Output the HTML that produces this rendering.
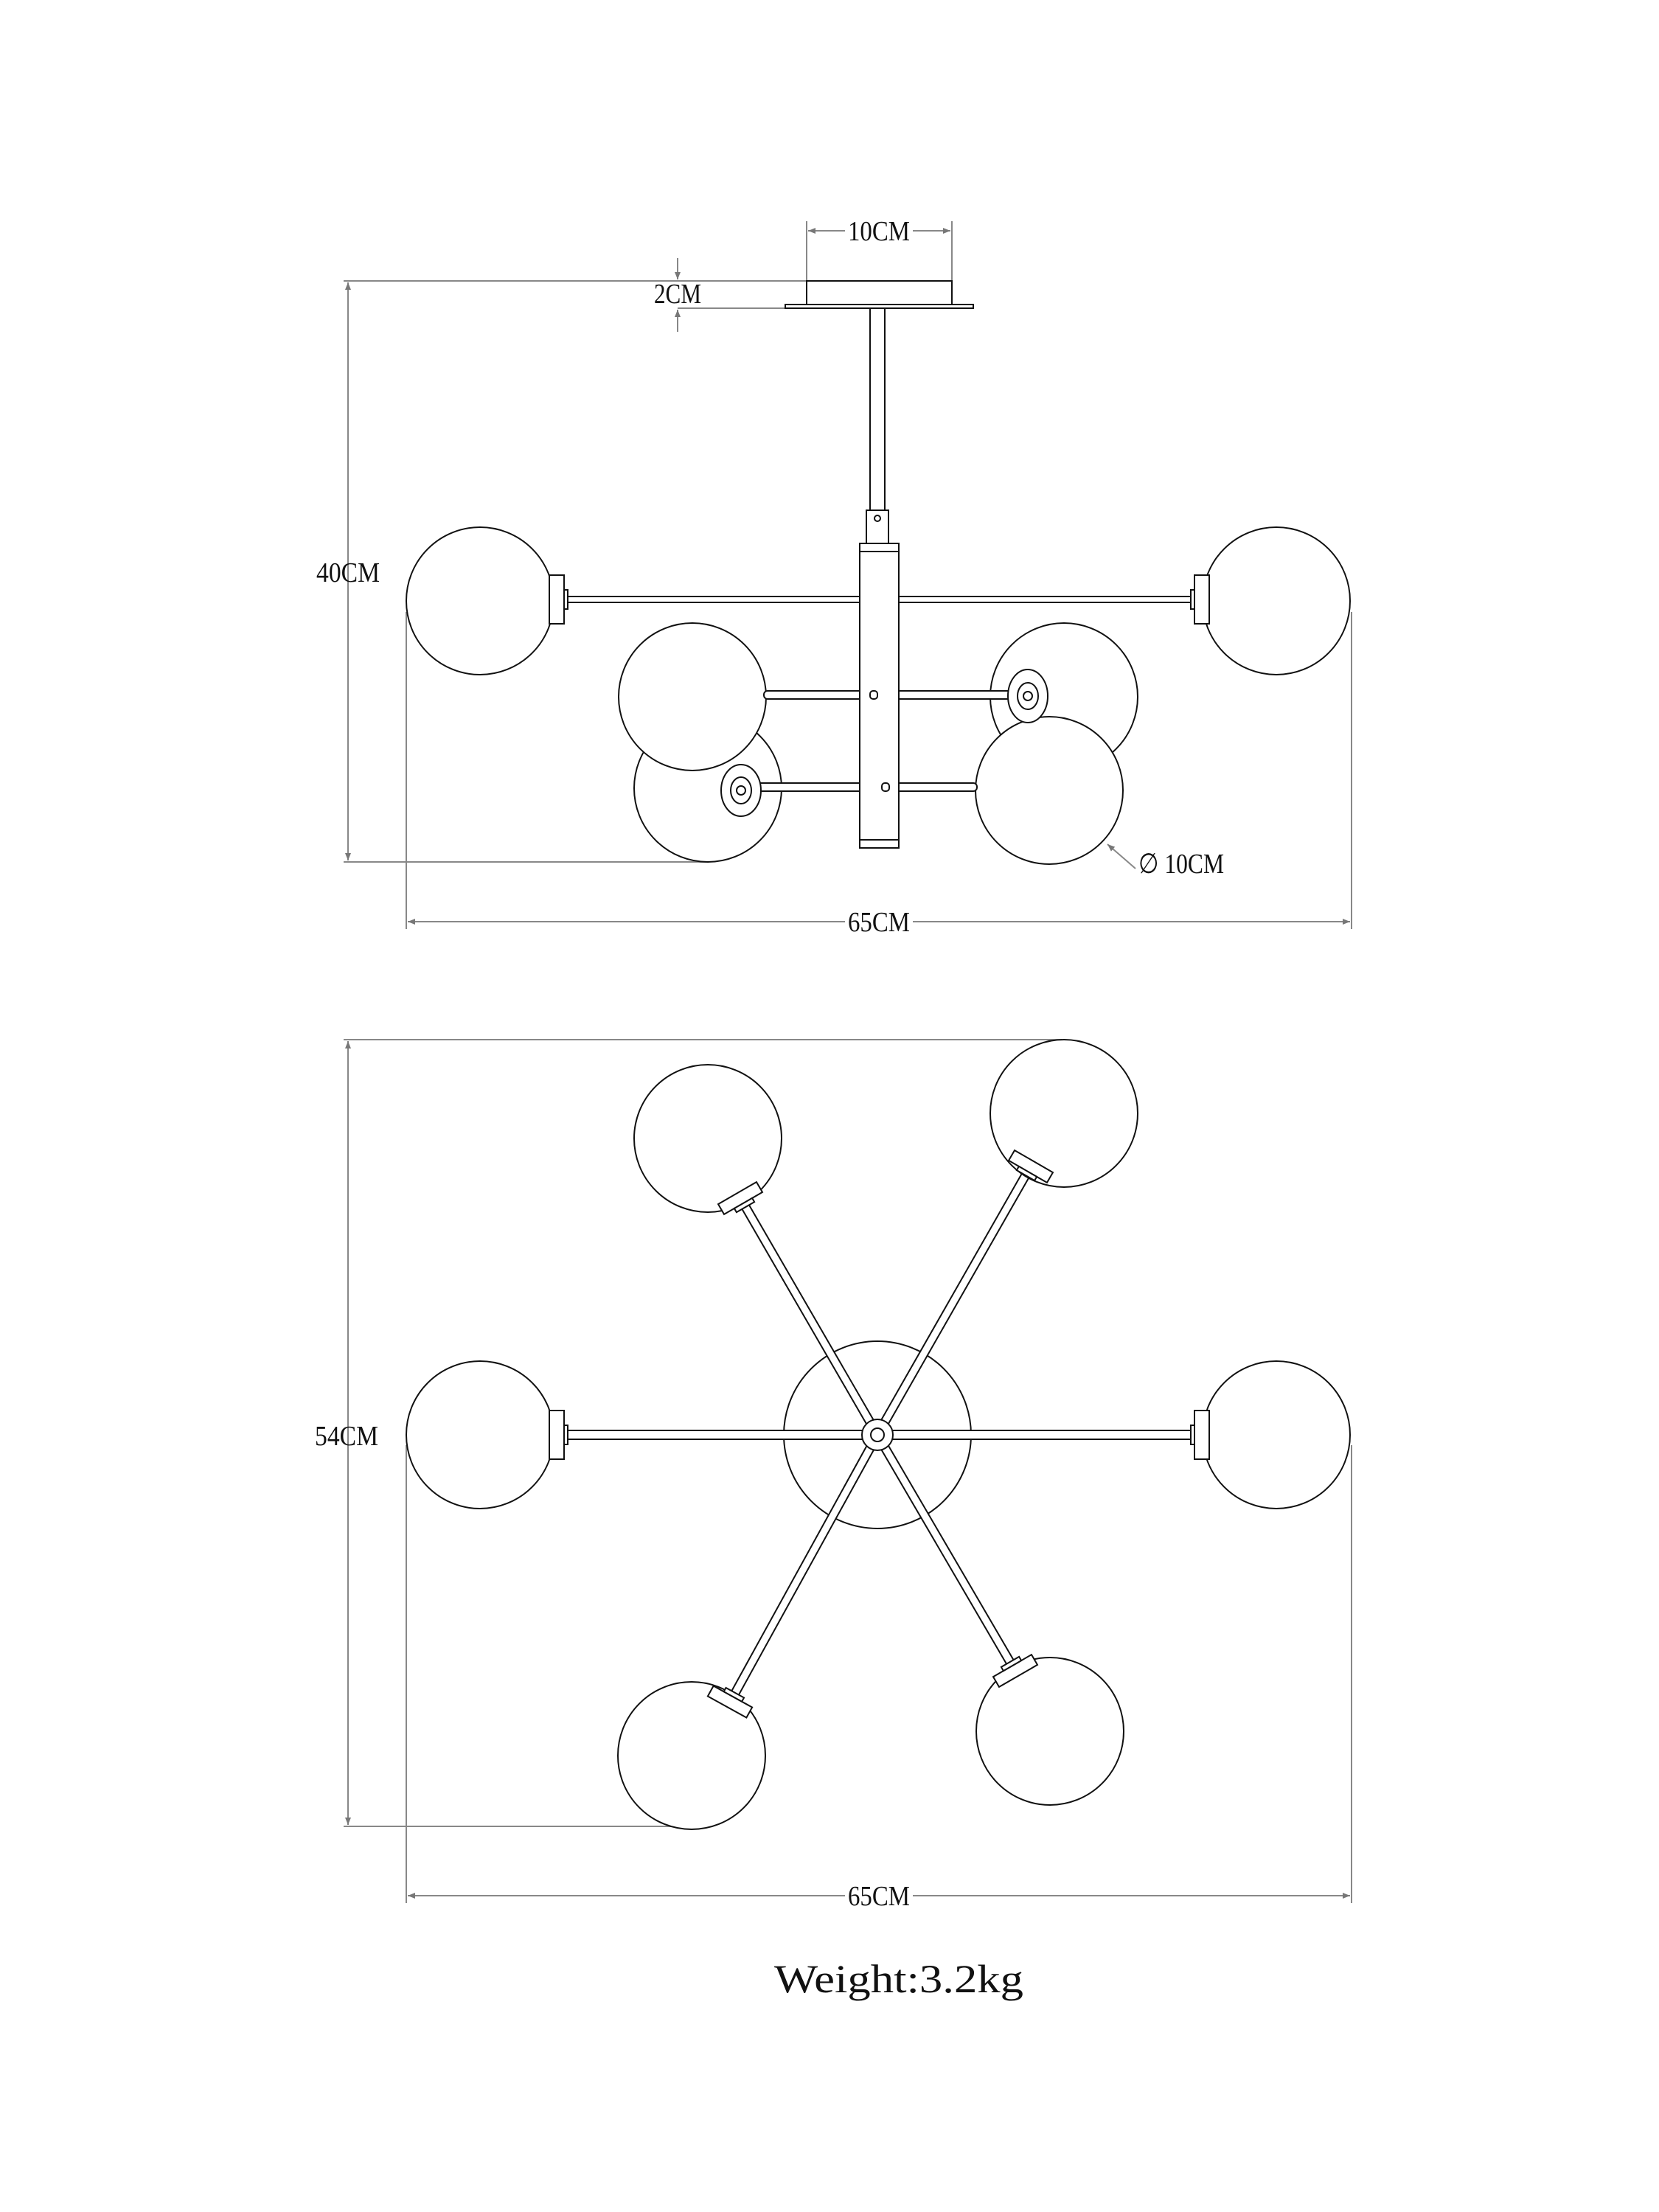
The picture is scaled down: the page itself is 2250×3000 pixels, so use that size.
<!DOCTYPE html>
<html><head><meta charset="utf-8"><style>
html,body{margin:0;padding:0;background:#fff}
svg{display:block}
text{font-family:"Liberation Serif",serif;fill:#111}
</style></head><body>
<svg width="2250" height="3000" viewBox="0 0 2250 3000" xmlns="http://www.w3.org/2000/svg">
<defs>
<marker id="a" viewBox="0 0 10 10" refX="10" refY="5" markerWidth="14" markerHeight="10" orient="auto-start-reverse" markerUnits="userSpaceOnUse"><path d="M0,1 L10,5 L0,9z" fill="#777"/></marker>
</defs>
<g stroke="#888" stroke-width="2" fill="none">
<line x1="1094" y1="300" x2="1094" y2="381"/><line x1="1291" y1="300" x2="1291" y2="381"/>
<line x1="1096" y1="313" x2="1146" y2="313" marker-start="url(#a)"/><line x1="1238" y1="313" x2="1289" y2="313" marker-end="url(#a)"/>
<line x1="466" y1="381" x2="1094" y2="381"/>
<line x1="466" y1="1169" x2="960" y2="1169"/>
<line x1="472" y1="383" x2="472" y2="1167" marker-start="url(#a)" marker-end="url(#a)"/>
<line x1="919" y1="350" x2="919" y2="379" marker-end="url(#a)"/>
<line x1="919" y1="450" x2="919" y2="420" marker-end="url(#a)"/>
<line x1="919" y1="418" x2="1065" y2="418"/>
<line x1="551" y1="830" x2="551" y2="1260"/><line x1="1833" y1="830" x2="1833" y2="1260"/>
<line x1="553" y1="1250" x2="1146" y2="1250" marker-start="url(#a)"/><line x1="1238" y1="1250" x2="1831" y2="1250" marker-end="url(#a)"/>
<line x1="1540" y1="1178" x2="1502" y2="1145" marker-end="url(#a)"/>
<line x1="466" y1="1410" x2="1440" y2="1410"/>
<line x1="466" y1="2477" x2="940" y2="2477"/>
<line x1="472" y1="1412" x2="472" y2="2475" marker-start="url(#a)" marker-end="url(#a)"/>
<line x1="551" y1="1960" x2="551" y2="2581"/><line x1="1833" y1="1960" x2="1833" y2="2581"/>
<line x1="553" y1="2571" x2="1146" y2="2571" marker-start="url(#a)"/><line x1="1238" y1="2571" x2="1831" y2="2571" marker-end="url(#a)"/>
</g>
<g font-size="38">
<text x="1192" y="326" text-anchor="middle" textLength="84" lengthAdjust="spacingAndGlyphs">10CM</text>
<text x="919" y="411" text-anchor="middle" textLength="64" lengthAdjust="spacingAndGlyphs">2CM</text>
<text x="472" y="789" text-anchor="middle" textLength="86" lengthAdjust="spacingAndGlyphs">40CM</text>
<text x="1192" y="1263" text-anchor="middle" textLength="84" lengthAdjust="spacingAndGlyphs">65CM</text>
<text x="1544" y="1184" textLength="116" lengthAdjust="spacingAndGlyphs">∅ 10CM</text>
<text x="470" y="1960" text-anchor="middle" textLength="86" lengthAdjust="spacingAndGlyphs">54CM</text>
<text x="1192" y="2584" text-anchor="middle" textLength="84" lengthAdjust="spacingAndGlyphs">65CM</text>
</g>
<text x="1219" y="2702" font-size="54" text-anchor="middle" textLength="338" lengthAdjust="spacingAndGlyphs">Weight:3.2kg</text>

<!-- TOP VIEW -->
<g stroke="#111" stroke-width="2" fill="#fff">
<rect x="1094" y="381" width="197" height="32"/>
<rect x="1065" y="413" width="255" height="5"/>
<rect x="1180" y="418" width="20" height="274"/>
<rect x="1175" y="692" width="30" height="45"/>
<circle cx="1190" cy="703" r="4"/>
<circle cx="1443" cy="945" r="100"/>
<circle cx="960" cy="1069" r="100"/>
<circle cx="939" cy="945" r="100"/>
<circle cx="1423" cy="1072" r="100"/>
<circle cx="651" cy="815" r="100"/>
<circle cx="1731" cy="815" r="100"/>
<rect x="765" y="809" width="855" height="8"/>
<rect x="745" y="780" width="20" height="66"/><rect x="765" y="800" width="5" height="26"/>
<rect x="1620" y="780" width="20" height="66"/><rect x="1615" y="800" width="5" height="26"/>
<rect x="1036" y="937" width="140" height="11" rx="5"/>
<rect x="1212" y="937" width="180" height="11" rx="5"/>
<ellipse cx="1394" cy="944" rx="27" ry="36"/><ellipse cx="1394" cy="944" rx="14" ry="18"/><circle cx="1394" cy="944" r="6"/>
<rect x="1005" y="1062" width="166" height="11" rx="5"/>
<rect x="1200" y="1062" width="125" height="11" rx="5"/>
<ellipse cx="1005" cy="1072" rx="27" ry="35"/><ellipse cx="1005" cy="1072" rx="14" ry="18"/><circle cx="1005" cy="1072" r="6"/>
<rect x="1166" y="737" width="53" height="413"/>
<line x1="1166" y1="748" x2="1219" y2="748"/><line x1="1166" y1="1139" x2="1219" y2="1139"/>
<rect x="1180" y="937" width="10" height="11" rx="4"/>
<rect x="1196" y="1062" width="10" height="11" rx="4"/>
</g>

<!-- BOTTOM VIEW -->
<g stroke="#111" stroke-width="2" fill="#fff">
<circle cx="1190" cy="1946" r="127"/>
<g fill="none" stroke-width="13">
<line x1="1190" y1="1946" x2="1010" y2="1635"/>
<line x1="1190" y1="1946" x2="1392" y2="1592"/>
<line x1="1190" y1="1946" x2="996" y2="2298"/>
<line x1="1190" y1="1946" x2="1371" y2="2256"/>
</g>
<g fill="none" stroke="#fff" stroke-width="9">
<line x1="1190" y1="1946" x2="1010" y2="1635"/>
<line x1="1190" y1="1946" x2="1392" y2="1592"/>
<line x1="1190" y1="1946" x2="996" y2="2298"/>
<line x1="1190" y1="1946" x2="1371" y2="2256"/>
</g>
<rect x="765" y="1940" width="855" height="12"/>
<circle cx="651" cy="1946" r="100"/>
<circle cx="1731" cy="1946" r="100"/>
<rect x="745" y="1913" width="20" height="66"/><rect x="765" y="1933" width="5" height="26"/>
<rect x="1620" y="1913" width="20" height="66"/><rect x="1615" y="1933" width="5" height="26"/>
<circle cx="960" cy="1544" r="100"/>
<circle cx="1443" cy="1510" r="100"/>
<circle cx="938" cy="2381" r="100"/>
<circle cx="1424" cy="2348" r="100"/>
<g transform="translate(1004,1625) rotate(-120)"><rect x="-8" y="-30" width="16" height="60"/><rect x="-14" y="-14" width="6" height="28"/></g>
<g transform="translate(1398,1582) rotate(-60)"><rect x="-8" y="-30" width="16" height="60"/><rect x="-14" y="-14" width="6" height="28"/></g>
<g transform="translate(990,2308) rotate(119)"><rect x="-8" y="-30" width="16" height="60"/><rect x="-14" y="-14" width="6" height="28"/></g>
<g transform="translate(1377,2266) rotate(60)"><rect x="-8" y="-30" width="16" height="60"/><rect x="-14" y="-14" width="6" height="28"/></g>
<circle cx="1190" cy="1946" r="21"/>
<circle cx="1190" cy="1946" r="9"/>
</g>
</svg>
</body></html>
